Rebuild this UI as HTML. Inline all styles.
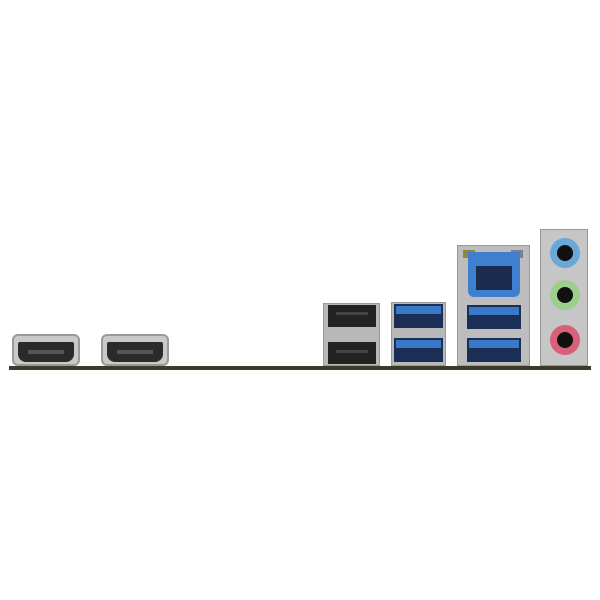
<!DOCTYPE html>
<html><head><style>
body{margin:0;width:600px;height:600px;background:#fff;position:relative;overflow:hidden;font-family:"Liberation Sans",sans-serif}
div{position:absolute;box-sizing:border-box}
.pcb{left:9px;top:366px;width:582px;height:4px;background:#3b3b2b}
.hdmi{top:334px;width:68px;height:32px;background:#c9c9c9;border:2px solid #9a9a9a;border-radius:6px}
.hdmi .in{left:4px;top:6px;width:56px;height:20px;background:#2a2a2a;border-radius:2px 2px 8px 8px}
.hdmi .pin{left:10px;top:8px;width:36px;height:4px;background:#555}
.blk{background:#222}
.met{background:#b8b8b8}
.jack{width:30px;height:30px;border-radius:50%}
.jack .h{left:7px;top:7px;width:16px;height:16px;border-radius:50%;background:#111}
</style></head><body>
<div class="pcb"></div>
<div class="hdmi" style="left:12px"><div class="in"><div class="pin"></div></div></div>
<div class="hdmi" style="left:101px"><div class="in"><div class="pin"></div></div></div>

<!-- USB2 -->
<div class="met" style="left:323px;top:303px;width:57px;height:63px;border:1px solid #999"></div>
<div class="blk" style="left:328px;top:305px;width:48px;height:22px"></div>
<div class="blk" style="left:328px;top:342px;width:48px;height:22px"></div>
<div style="left:336px;top:312px;width:32px;height:3px;background:#444"></div>
<div style="left:336px;top:350px;width:32px;height:3px;background:#444"></div>

<!-- USB3 -->
<div class="met" style="left:391px;top:302px;width:55px;height:64px;border:1px solid #999"></div>
<div style="left:394px;top:304px;width:49px;height:24px;background:#1b2e55"></div>
<div style="left:396px;top:306px;width:45px;height:8px;background:#3a78c8"></div>
<div style="left:394px;top:338px;width:49px;height:24px;background:#1b2e55"></div>
<div style="left:396px;top:340px;width:45px;height:8px;background:#3a78c8"></div>

<!-- LAN + USB -->
<div style="left:457px;top:245px;width:73px;height:121px;background:#bdbdbd;border:1px solid #999"></div>
<div style="left:463px;top:250px;width:12px;height:8px;background:#8a8a3a"></div>
<div style="left:511px;top:250px;width:12px;height:8px;background:#7a8090"></div>
<div style="left:468px;top:252px;width:52px;height:45px;background:#3e7fd0;border-radius:0 0 6px 6px"></div>
<div style="left:476px;top:266px;width:36px;height:24px;background:#1a2c50"></div>
<div style="left:467px;top:305px;width:54px;height:24px;background:#1b2e55"></div>
<div style="left:469px;top:307px;width:50px;height:8px;background:#3a78c8"></div>
<div style="left:467px;top:338px;width:54px;height:24px;background:#1b2e55"></div>
<div style="left:469px;top:340px;width:50px;height:8px;background:#3a78c8"></div>

<!-- Audio -->
<div style="left:540px;top:229px;width:48px;height:137px;background:#c6c6c6;border:1px solid #999"></div>
<div class="jack" style="left:550px;top:238px;background:#6aa8d8"><div class="h"></div></div>
<div class="jack" style="left:550px;top:280px;background:#9ccf8c"><div class="h"></div></div>
<div class="jack" style="left:550px;top:325px;background:#d8607a"><div class="h"></div></div>
</body></html>
